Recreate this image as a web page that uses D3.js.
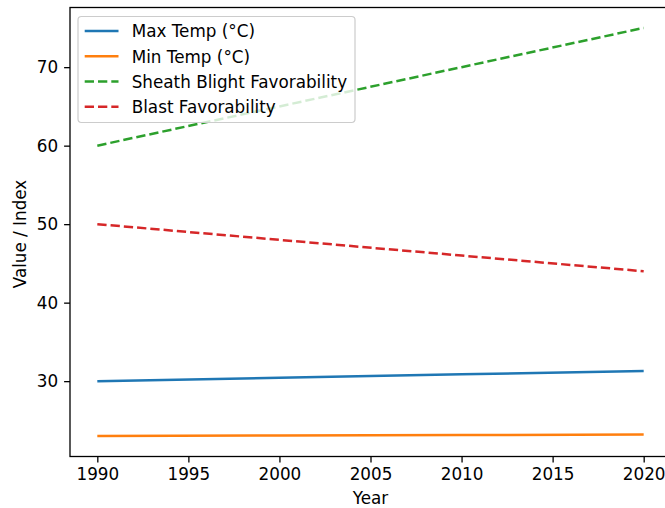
<!DOCTYPE html>
<html>
<head>
<meta charset="utf-8">
<script src="https://cdn.jsdelivr.net/npm/d3@7"></script>
<style>
  body { margin: 0; background: #fff; overflow: hidden; }
  svg { font-family: "DejaVu Sans", sans-serif; }
</style>
</head>
<body>
<div id="chart"></div>
<script>
// values
var years = [1990, 2000, 2010, 2020];
var maxTemp = [30.0, 30.43, 30.87, 31.3];
var minTemp = [23.0, 23.07, 23.13, 23.2];
var sheathBlight = [60, 65, 70, 75];
var blast = [50, 48, 46, 44];
var xTicks = [1990, 1995, 2000, 2005, 2010, 2015, 2020];
var yTicks = [30, 40, 50, 60, 70];

var series = [
    {name: "Max Temp (°C)", values: maxTemp, color: "#1f77b4", dash: null},
    {name: "Min Temp (°C)", values: minTemp, color: "#ff7f0e", dash: null},
    {name: "Sheath Blight Favorability", values: sheathBlight, color: "#2ca02c", dash: "9.3,4"},
    {name: "Blast Favorability", values: blast, color: "#d62728", dash: "9.3,4"}
];

var width = 665, height = 508;
var fontSize = "16.8px";
// plot box (right spine sits just past the window edge)
var pLeft = 70, pTop = 7.5, pRight = 671, pBottom = 456.5;

var svg = d3.select("#chart").append("svg")
    .attr("width", width)
    .attr("height", height);

// matplotlib style 5% margins
var allVals = d3.merge(series.map(function (s) { return s.values; }));
var yMin = d3.min(allVals), yMax = d3.max(allVals), yPad = (yMax - yMin) * 0.05;
var xPad = (2020 - 1990) * 0.05;

var x = d3.scaleLinear().domain([1990 - xPad, 2020 + xPad]).range([pLeft, pRight]);
var y = d3.scaleLinear().domain([yMin - yPad, yMax + yPad]).range([pBottom, pTop]);

var line = d3.line()
    .x(function (d) { return x(d[0]); })
    .y(function (d) { return y(d[1]); });

svg.append("g").selectAll(".series")
    .data(series)
    .enter().append("path")
    .attr("fill", "none")
    .attr("stroke", function (d) { return d.color; })
    .attr("stroke-width", 2.5)
    .attr("stroke-dasharray", function (d) { return d.dash; })
    .attr("d", function (d) { return line(years.map(function (yr, i) { return [yr, d.values[i]]; })); });

// axes
var xAxis = svg.append("g")
    .attr("transform", "translate(0," + pBottom + ")")
    .call(d3.axisBottom(x).tickValues(xTicks).tickFormat(d3.format("d")).tickSizeOuter(0).tickSize(5.9).tickPadding(5.9));
var yAxis = svg.append("g")
    .attr("transform", "translate(" + pLeft + ",0)")
    .call(d3.axisLeft(y).tickValues(yTicks).tickSizeOuter(0).tickSize(5.9).tickPadding(5.9));

[xAxis, yAxis].forEach(function (a) {
    a.select(".domain").remove();
    a.selectAll("line").attr("stroke", "#000").attr("stroke-width", 1.3);
    a.selectAll("text").attr("font-size", fontSize).attr("fill", "#000").attr("font-family", "DejaVu Sans");
});

// frame
svg.append("rect")
    .attr("x", pLeft).attr("y", pTop)
    .attr("width", pRight - pLeft).attr("height", pBottom - pTop)
    .attr("fill", "none").attr("stroke", "#000").attr("stroke-width", 1.3);

svg.append("text")
    .attr("x", (pLeft + pRight) / 2).attr("y", 503.5)
    .attr("text-anchor", "middle").attr("font-size", fontSize)
    .text("Year");
svg.append("text")
    .attr("transform", "translate(25.5,234) rotate(-90)")
    .attr("text-anchor", "middle").attr("font-size", fontSize)
    .text("Value / Index");

// legend
var legend = svg.append("g");
legend.append("rect")
    .attr("x", 78).attr("y", 16.5).attr("width", 277).attr("height", 106)
    .attr("rx", 3.4).attr("fill", "#fff").attr("fill-opacity", 0.8)
    .attr("stroke", "#cccccc").attr("stroke-width", 1.2);

var item = legend.selectAll(".item")
    .data(series)
    .enter().append("g")
    .attr("transform", function (d, i) { return "translate(0," + (30.9 + i * 25.3) + ")"; });
item.append("line")
    .attr("x1", 84.7).attr("x2", 118.5)
    .attr("stroke", function (d) { return d.color; })
    .attr("stroke-width", 2.5)
    .attr("stroke-dasharray", function (d) { return d.dash; });
item.append("text")
    .attr("x", 131.7).attr("y", 6.3)
    .attr("font-size", fontSize)
    .text(function (d) { return d.name; });
</script>
</body>
</html>
